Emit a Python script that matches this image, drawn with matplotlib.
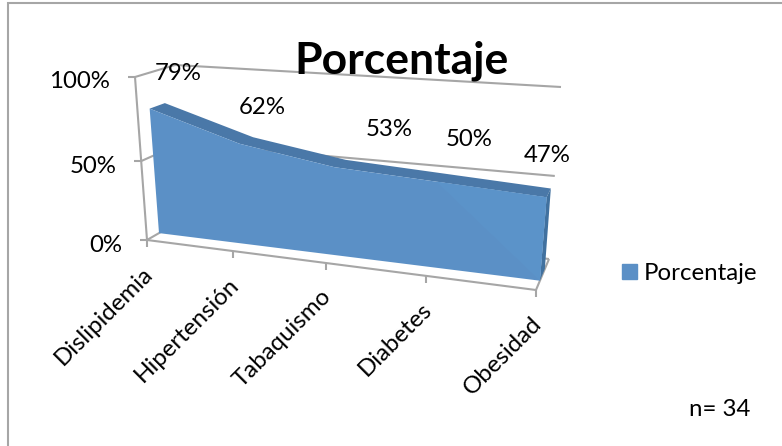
import numpy as np
import matplotlib
matplotlib.use("Agg")
import matplotlib.pyplot as plt
from matplotlib.patches import Patch, Rectangle

categories = ["Dislipidemia", "Hipertensión", "Tabaquismo", "Diabetes", "Obesidad"]
values = [79, 62, 53, 50, 47]
y_ticks = [0, 50, 100]
series_name = "Porcentaje"

GRAY = "#A6A6A6"
FRONT = "#5B90C6"
FRONT_LIGHT = "#5B93C9"
TOP = "#4A78A8"
SIDE = "#41719F"
FONT = 17.3

# corners of the 3d box in pixels: (cat 0, 0%), (cat 4, 0%), (cat 0, 100%), (cat 4, 100%)
near_box = np.array([[147, 240], [536, 290], [135, 77], [552, 100]], dtype=float)
far_box = np.array([[187, 217], [549, 259], [175, 65], [561, 87]], dtype=float)
area_near = 0.3
area_far = 0.68


def homography(corners):
    src = [(0, 0), (4, 0), (0, 100), (4, 100)]
    a = []
    b = []
    for (x, y), (u, v) in zip(src, corners):
        a.append([x, y, 1, 0, 0, 0, -u * x, -u * y])
        a.append([0, 0, 0, x, y, 1, -v * x, -v * y])
        b += [u, v]
    return np.append(np.linalg.solve(np.array(a), np.array(b)), 1).reshape(3, 3)


def project(cat, val, depth):
    h = homography(near_box + depth * (far_box - near_box))
    p = h @ np.array([cat, val, 1.0])
    return p[0] / p[2], p[1] / p[2]


def draw_line(ax, a, b, **kw):
    ax.plot([a[0], b[0]], [a[1], b[1]], color=GRAY, lw=1.5, solid_capstyle="butt", **kw)


plt.rcParams["font.family"] = ["Lato", "DejaVu Sans"]
fig = plt.figure(figsize=(7.82, 4.46), dpi=100)
ax = fig.add_axes([0, 0, 1, 1])
ax.set_xlim(0, 782)
ax.set_ylim(446, 0)
ax.axis("off")

ax.add_patch(Rectangle((8, 3), 800, 470, fc="white", ec=GRAY, lw=1.5))

# walls and floor
for t in y_ticks:
    draw_line(ax, project(0, t, 0), project(0, t, 1), zorder=2)
    draw_line(ax, project(0, t, 1), project(4, t, 1), zorder=2)
    x, y = project(0, t, 0)
    draw_line(ax, (x - 7, y), (x, y), zorder=2)
    ax.text(x - 25, y + 5, f"{t}%", ha="right", va="center", fontsize=FONT, color="black")
draw_line(ax, project(0, 0, 0), project(0, 100, 0), zorder=2)
draw_line(ax, project(0, 0, 0), project(4, 0, 0), zorder=2)
draw_line(ax, project(4, 0, 0), project(4, 0, 1), zorder=2)

for i, name in enumerate(categories):
    x, y = project(i, 0, 0)
    draw_line(ax, (x, y), (x, y + 7), zorder=2)
    ax.text(x - 5, y + 23, name, rotation=45, rotation_mode="anchor", ha="right", va="top",
            fontsize=FONT, color="black")

# the area itself
cats = np.arange(len(values))
top_near = [project(i, v, area_near) for i, v in zip(cats, values)]
top_far = [project(i, v, area_far) for i, v in zip(cats, values)]
bottom_near = [project(i, 0, area_near) for i in cats]

ax.fill(*zip(*(top_far + top_near[::-1])), color=TOP, lw=0, zorder=3)
ax.fill(*zip(top_near[-1], top_far[-1], project(4, 0, area_far), bottom_near[-1]),
        color=SIDE, lw=0, zorder=3)
ax.fill(*zip(*(top_near + bottom_near[::-1])), color=FRONT, lw=0, zorder=4)
# lighter patch of the gradient near the right end
ax.fill(*zip(top_near[3], top_near[4], bottom_near[4]), color=FRONT_LIGHT, lw=0, zorder=4)

# data labels sit where the original put them
label_x = [178, 262, 389, 469, 547]
label_y = [73, 107, 130, 140, 156]
for x, y, v in zip(label_x, label_y, values):
    ax.text(x, y, f"{v}%", ha="center", va="center", fontsize=FONT, color="black", zorder=6)

ax.text(402, 61, series_name, ha="center", va="center", fontsize=32, fontweight="bold",
        color="black", zorder=6)
ax.text(720, 409, "n= 34", ha="center", va="center", fontsize=FONT, color="black", zorder=6)

ax.legend(handles=[Patch(color=FRONT, label=series_name)], loc="center left",
          bbox_to_anchor=(0.795, 0.387), frameon=False, fontsize=FONT,
          handlelength=0.62, handleheight=0.62, handletextpad=0.3, borderaxespad=0, borderpad=0)

fig.savefig("out.png", dpi=100)
